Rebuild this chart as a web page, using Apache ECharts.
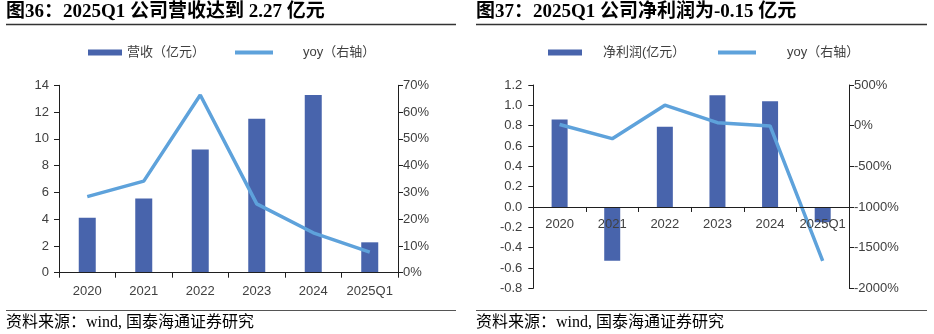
<!DOCTYPE html>
<html>
<head>
<meta charset="utf-8">
<script src="https://cdn.jsdelivr.net/npm/echarts@6/dist/echarts.min.js"></script>
<style>
  html, body { margin: 0; padding: 0; background: #fff; }
  #wrap { position: relative; width: 934px; height: 334px; }
  #c1, #c2 { position: absolute; top: 0; width: 467px; height: 334px; }
  #c1 { left: 0; }
  #c2 { left: 467px; }
</style>
</head>
<body>
<div id="wrap"><div id="c1"></div><div id="c2"></div></div>
<script>
// Shared categories
const years = ['2020', '2021', '2022', '2023', '2024', '2025Q1'];

// Revenue (亿元) and its growth rate (%)
const revenue = [4.1, 5.55, 9.2, 11.5, 13.27, 2.27];
const revenueYoy = [28.4, 34.2, 66.4, 25.7, 14.9, 7.7];

// Net profit (亿元) and its growth rate (%)
const netProfit = [0.86, -0.53, 0.79, 1.10, 1.04, -0.15];
const profitYoy = [15, -160, 252, 37, -3, -1663];

const titles = ['图36：2025Q1 公司营收达到 2.27 亿元', '图37：2025Q1 公司净利润为-0.15 亿元'];
const sourceText = '资料来源：wind, 国泰海通证券研究';

const BAR = '#4864ac';
const LINE = '#5ea2db';
const AXIS = '#1f1f1f';
const LABEL = '#404040';
const SANS = 'Liberation Sans, Arial, Noto Sans CJK SC, sans-serif';
const SERIF = 'Liberation Serif, Times New Roman, Noto Sans CJK SC, serif';

const pct = v => v + '%';

function frame(titleText, x0, x1) {
  return {
    title: [
      { text: titleText, left: x0, top: 3, padding: 0,
        textStyle: { fontFamily: SERIF, fontSize: 19, fontWeight: 'bold', color: '#000' } },
      { text: sourceText, left: x0, top: 315, padding: 0,
        textStyle: { fontFamily: SERIF, fontSize: 16, fontWeight: 'normal', color: '#000' } }
    ],
    graphic: [
      { type: 'line', shape: { x1: x0, y1: 24.5, x2: x1, y2: 24.5 },
        style: { stroke: '#333', lineWidth: 1.5 } },
      { type: 'line', shape: { x1: x0, y1: 310.5, x2: x1, y2: 310.5 },
        style: { stroke: '#555', lineWidth: 1 } }
    ]
  };
}

function valueAxis(opts) {
  return Object.assign({
    type: 'value',
    splitLine: { show: false },
    axisLine: { show: true, lineStyle: { color: AXIS, width: 1 } },
    axisTick: { show: true, length: 5, lineStyle: { color: AXIS } }
  }, opts);
}

function labelStyle(margin, formatter) {
  const s = { color: LABEL, fontFamily: SANS, fontSize: 13, margin: margin };
  if (formatter) s.formatter = formatter;
  return s;
}

function categoryAxis(margin, offset) {
  return {
    type: 'category',
    data: years,
    z: 10,
    offset: offset,
    axisLine: { show: true, onZero: true, lineStyle: { color: AXIS, width: 1 } },
    axisTick: { show: true, length: 5, lineStyle: { color: AXIS } },
    axisLabel: Object.assign(labelStyle(margin), { interval: 0 })
  };
}

function legends(barName, barLeft, barGap, lineName, lineLeft, lineGap) {
  const ts = { color: LABEL, fontFamily: SANS, fontSize: 13 };
  return [
    { data: [{ name: barName, icon: 'rect' }], left: barLeft, top: 46, padding: 0,
      itemWidth: 34, itemHeight: 6, itemGap: 0, selectedMode: false,
      textStyle: Object.assign({ padding: [0, 0, 0, barGap] }, ts) },
    { data: [{ name: lineName, icon: 'rect' }], left: lineLeft, top: 46, padding: 0,
      itemWidth: 38, itemHeight: 4, itemGap: 0, selectedMode: false,
      textStyle: Object.assign({ padding: [0, 0, 0, lineGap] }, ts) }
  ];
}

// Revenue chart
const chart1 = echarts.init(document.getElementById('c1'), null, { renderer: 'canvas' });
chart1.setOption(Object.assign(frame(titles[0], 6, 456), {
  animation: false,
  legend: legends('营收（亿元）', 88, 0, 'yoy（右轴）', 235, 25),
  grid: { left: 59, right: 69, top: 85.3, height: 187.4, containLabel: false },
  xAxis: categoryAxis(12, 0),
  yAxis: [
    valueAxis({ min: 0, max: 14, interval: 2, axisLabel: labelStyle(10) }),
    valueAxis({ position: 'right', min: 0, max: 70, interval: 10, axisLabel: labelStyle(5, pct) })
  ],
  series: [
    { name: '营收（亿元）', type: 'bar', data: revenue, barWidth: 17, yAxisIndex: 0,
      itemStyle: { color: BAR } },
    { name: 'yoy（右轴）', type: 'line', data: revenueYoy, yAxisIndex: 1,
      showSymbol: false, symbol: 'none', z: 5,
      lineStyle: { color: LINE, width: 3.5 }, itemStyle: { color: LINE } }
  ]
}));

// Net profit chart: the category axis sits on the zero line of the left axis
const profitMin = -0.8, profitMax = 1.2, profitGridHeight = 203.3;
const zeroOffset = -profitGridHeight * (0 - profitMin) / (profitMax - profitMin);

const chart2 = echarts.init(document.getElementById('c2'), null, { renderer: 'canvas' });
chart2.setOption(Object.assign(frame(titles[1], 9, 460), {
  animation: false,
  legend: legends('净利润(亿元）', 81, 16, 'yoy（右轴）', 251, 26),
  grid: { left: 66.3, right: 85, top: 85, height: profitGridHeight, containLabel: false },
  xAxis: categoryAxis(11, zeroOffset),
  yAxis: [
    valueAxis({ min: profitMin, max: profitMax, interval: 0.2,
      axisLabel: labelStyle(11, v => (Math.round(v * 10) / 10).toFixed(1)) }),
    valueAxis({ position: 'right', min: -2000, max: 500, interval: 500, axisLabel: labelStyle(5, pct) })
  ],
  series: [
    { name: '净利润(亿元）', type: 'bar', data: netProfit, barWidth: 16, yAxisIndex: 0,
      itemStyle: { color: BAR } },
    { name: 'yoy（右轴）', type: 'line', data: profitYoy, yAxisIndex: 1,
      showSymbol: false, symbol: 'none', z: 5,
      lineStyle: { color: LINE, width: 3.5 }, itemStyle: { color: LINE } }
  ]
}));
</script>
</body>
</html>
